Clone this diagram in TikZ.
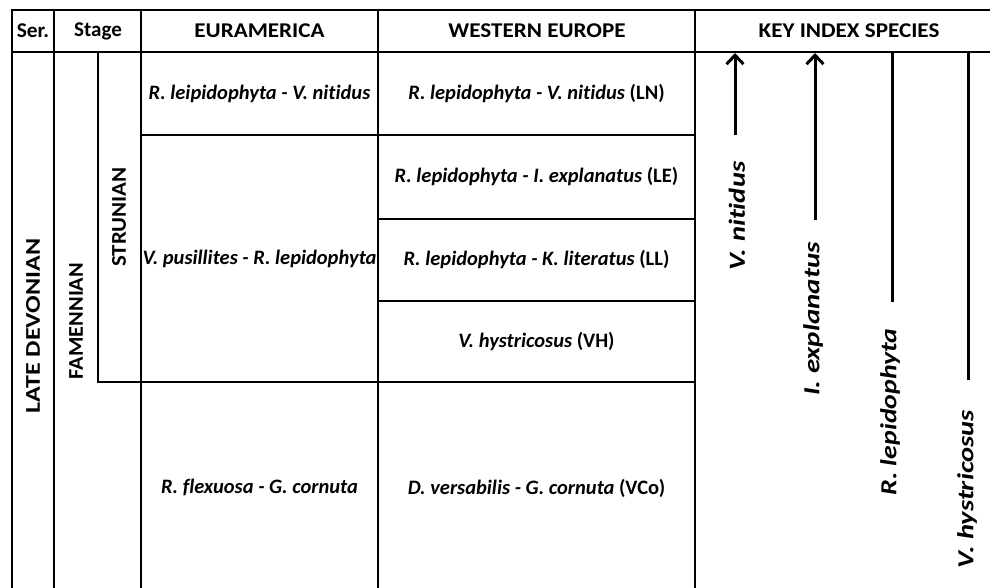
\documentclass[tikz,border=0pt]{standalone}
\usepackage{fontspec}
\usepackage{graphicx}
\setmainfont{Carlito}[Ligatures=NoCommon]
\usetikzlibrary{arrows.meta}
\newcommand{\strx}[2]{\scalebox{#1}[1]{#2}}
\begin{document}
\begin{tikzpicture}[x=1pt,y=-1pt,
  grid/.style={line width=2.6pt},
  hdr/.style={font=\fontsize{21}{24}\selectfont\bfseries, inner sep=0pt},
  cell/.style={font=\fontsize{20.5}{24}\selectfont\bfseries\itshape, inner sep=0pt},
  vlab/.style={rotate=90, font=\fontsize{21}{24}\selectfont\bfseries, inner sep=0pt},
  splab/.style={rotate=90, font=\fontsize{23}{26}\selectfont\bfseries\itshape, inner sep=0pt},
  spanline/.style={line width=3pt},
  arr/.style={line width=3pt, -{Straight Barb[length=9pt,width=17pt]}}
]
\useasboundingbox (0,0) rectangle (990,588);
% grid
\draw[grid] (12,590) -- (12,10) -- (995,10);
\draw[grid] (12,52) -- (995,52);
\draw[grid] (54,10) -- (54,590);
\draw[grid] (141,10) -- (141,590);
\draw[grid] (378,10) -- (378,590);
\draw[grid] (695,10) -- (695,590);
\draw[grid] (98,52) -- (98,382) -- (695,382);
\draw[grid] (141,135) -- (695,135);
\draw[grid] (378,219) -- (695,219);
\draw[grid] (378,301) -- (695,301);
% headers
\node[hdr] (hser) at (33,31) {\strx{1.02}{Ser.}};
\node[hdr] (hstage) at (98,31) {Stage};
\node[hdr] (heur) at (259.5,31) {\strx{1.1}{EURAMERICA}};
\node[hdr] (hwe) at (537,31) {\strx{1.1}{WESTERN EUROPE}};
\node[hdr] (hkey) at (849,31) {\strx{1.1}{KEY INDEX SPECIES}};
% vertical stage labels
\node[vlab] (late) at (33,326) {\strx{1.24}{LATE DEVONIAN}};
\node[vlab] (fam) at (76,321) {\strx{1.06}{FAMENNIAN}};
\node[vlab] (stru) at (119,217) {\strx{1.09}{STRUNIAN}};
% Euramerica
\node[cell] (e1) at (259.5,93.5) {R. leipidophyta - V. nitidus};
\node[cell] (e2) at (259.5,258.5) {V. pusillites - R. lepidophyta};
\node[cell] (e3) at (259.5,487) {R. flexuosa - G. cornuta};
% Western Europe
\node[cell] (w1) at (536.5,93.5) {R. lepidophyta - V. nitidus \upshape(LN)};
\node[cell] (w2) at (536.5,177) {R. lepidophyta - I. explanatus \upshape(LE)};
\node[cell] (w3) at (536.5,260) {R. lepidophyta - K. literatus \upshape(LL)};
\node[cell] (w4) at (536.5,341.5) {V. hystricosus \upshape(VH)};
\node[cell] (w5) at (536.5,488) {D. versabilis - G. cornuta \upshape(VCo)};
% key index species
\coordinate (a1b) at (735,135);
\coordinate (a1t) at (735,53);
\coordinate (a2b) at (815,220);
\coordinate (a2t) at (815,53);
\coordinate (r1t) at (892,52);
\coordinate (r1b) at (892,302);
\coordinate (r2t) at (968,52);
\coordinate (r2b) at (968,380);
\draw[arr] (a1b) -- (a1t);
\draw[arr] (a2b) -- (a2t);
\draw[spanline] (r1t) -- (r1b);
\draw[spanline] (r2t) -- (r2b);
\node[splab] (s1) at (737,216) {\strx{1.24}{V. nitidus}};
\node[splab] (s2) at (813,319) {\strx{1.26}{I. explanatus}};
\node[splab] (s3) at (890,412) {\strx{1.21}{R. lepidophyta}};
\node[splab] (s4) at (967,489) {\strx{1.24}{V. hystricosus}};
\end{tikzpicture}
\end{document}
